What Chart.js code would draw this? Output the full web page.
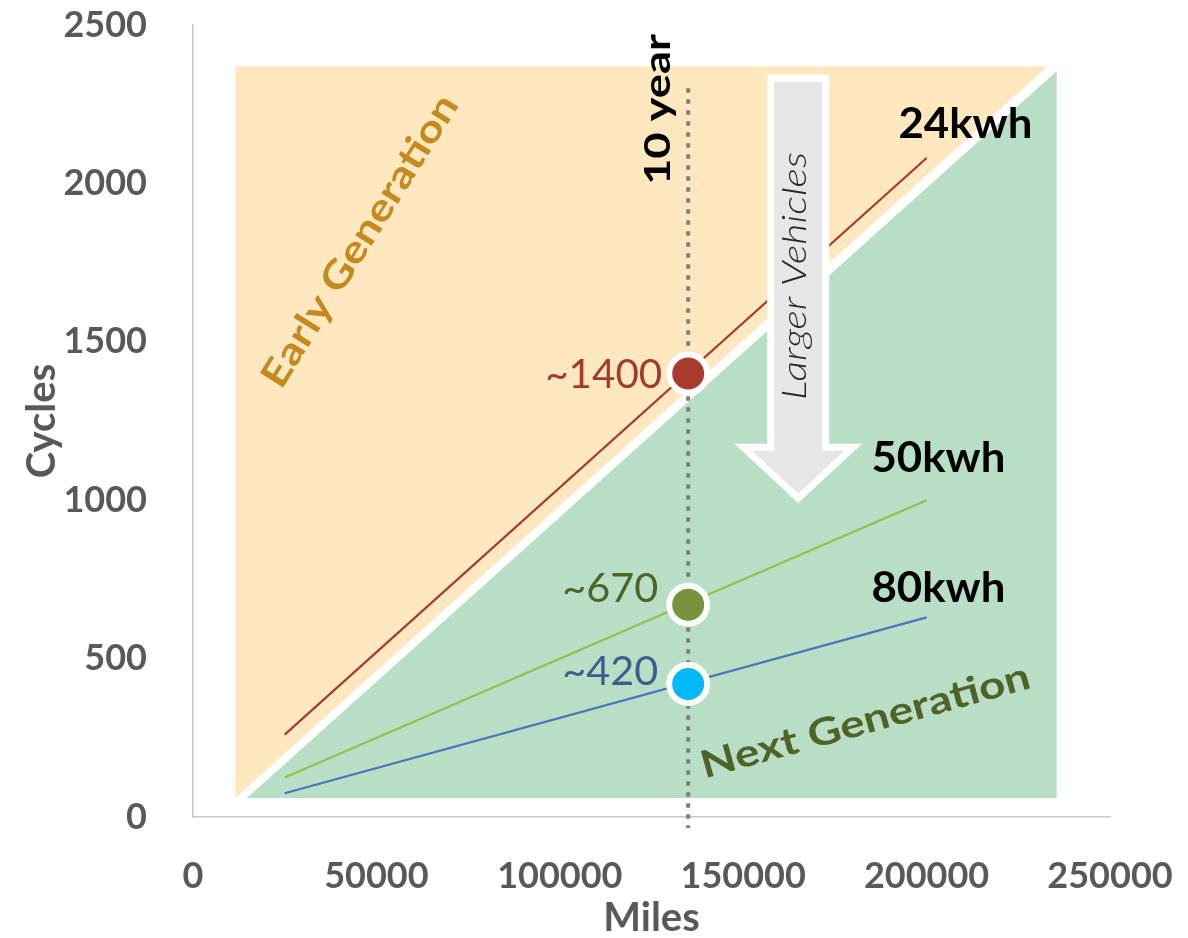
<!DOCTYPE html>
<html>
<head>
<meta charset="utf-8">
<script src="https://cdn.jsdelivr.net/npm/chart.js@4.4.1/dist/chart.umd.min.js"></script>
<style>
  html, body { margin: 0; padding: 0; background: #ffffff; }
  #wrap { width: 1188px; height: 938px; position: relative; }
</style>
</head>
<body>
<div id="wrap"><canvas id="chart"></canvas></div>
<script>
// ---- values ----
const xTickValues = [0, 50000, 100000, 150000, 200000, 250000];
const yTickValues = [0, 500, 1000, 1500, 2000, 2500];

const lineMiles   = [25000, 200000];
const cycles24kwh = [260, 2080];
const cycles50kwh = [125, 1000];
const cycles80kwh = [75, 630];
const packNames   = ['24kwh', '50kwh', '80kwh'];

const tenYearMiles  = 135000;
const tenYearCycles = [1400, 670, 420];
const tenYearLabels = ['~1400', '~670', '~420'];
const tenYearSpan   = [2300, -35];

const earlyZoneMiles  = [11500, 233000];
const earlyZoneCycles = [60, 2370];
const nextZoneMiles   = [14700, 235500];
const nextZoneCycles  = [60, 2355];

// ---- styles ----
const packLineColors  = ['#A33B2D', '#92C04C', '#4A73B9'];
const markerColors    = ['#A83B2C', '#77933C', '#00B9F6'];
const valueTextColors = ['#A33B2D', '#4F6228', '#3B5E8C'];
const axisGray = '#595959';

const pts = (xs, ys) => xs.map((x, i) => ({ x, y: ys[i] }));

// annotation layout (data coordinates)
const packLabelPos = [
  { x: 210590, y: 2186 },
  { x: 203220, y: 1132 },
  { x: 203220, y: 723 }
];
const valueLabelShift = [ { dx: -26, dy: 2 }, { dx: -30, dy: -16 }, { dx: -30, dy: -12 } ];
const notes = [
  { text: '10 year', x: 126840, y: 2233, angle: -90, font: 'bold 36px Lato', color: '#000000', width: 151 },
  { text: 'Larger Vehicles', x: 164210, y: 1708, angle: -90, font: 'italic 300 33px Lato', color: '#262626', width: 248 },
  { text: 'Early Generation', x: 45550, y: 1818, angle: -58, font: 'bold 38px Lato', color: '#C48A1E', width: 337 },
  { text: 'Next Generation', x: 183310, y: 302, angle: -15.5, font: 'bold 38px Lato', color: '#4F6228', width: 340 }
];
const arrow = { x: 165000, top: 2332, neck: 1167, tip: 1006, shaft: 27.5, head: 55, edge: 7, fill: '#E6E6E6' };

function drawText(ctx, text, px, py, opt) {
  ctx.save();
  ctx.translate(px, py);
  ctx.rotate((opt.angle || 0) * Math.PI / 180);
  ctx.font = opt.font;
  ctx.fillStyle = opt.color;
  ctx.textAlign = opt.align || 'center';
  ctx.textBaseline = 'middle';
  if (opt.width) {
    const w = ctx.measureText(text).width;
    ctx.scale(opt.width / w, 1);
  }
  ctx.fillText(text, 0, 0);
  ctx.restore();
}

const annotations = {
  id: 'annotations',
  afterDatasetsDraw(chart) {
    const { ctx, scales: { x, y } } = chart;
    // downward arrow
    const cx = x.getPixelForValue(arrow.x);
    const top = y.getPixelForValue(arrow.top);
    const neck = y.getPixelForValue(arrow.neck);
    const tip = y.getPixelForValue(arrow.tip);
    ctx.save();
    ctx.beginPath();
    ctx.moveTo(cx - arrow.shaft, top);
    ctx.lineTo(cx + arrow.shaft, top);
    ctx.lineTo(cx + arrow.shaft, neck);
    ctx.lineTo(cx + arrow.head, neck);
    ctx.lineTo(cx, tip);
    ctx.lineTo(cx - arrow.head, neck);
    ctx.lineTo(cx - arrow.shaft, neck);
    ctx.closePath();
    ctx.fillStyle = arrow.fill;
    ctx.fill();
    ctx.lineWidth = arrow.edge;
    ctx.lineJoin = 'miter';
    ctx.miterLimit = 10;
    ctx.strokeStyle = '#ffffff';
    ctx.stroke();
    ctx.restore();

    notes.forEach(n => drawText(ctx, n.text, x.getPixelForValue(n.x), y.getPixelForValue(n.y), n));

    packNames.forEach((name, i) => {
      drawText(ctx, name, x.getPixelForValue(packLabelPos[i].x), y.getPixelForValue(packLabelPos[i].y),
        { font: 'bold 42px Lato', color: '#000000', width: 134 });
    });

    const valueWidths = [117, 96, 96];
    tenYearLabels.forEach((label, i) => {
      const px = x.getPixelForValue(tenYearMiles) + valueLabelShift[i].dx;
      const py = y.getPixelForValue(tenYearCycles[i]) + valueLabelShift[i].dy;
      drawText(ctx, label, px, py, { font: '400 40px Lato', color: valueTextColors[i], align: 'right', width: valueWidths[i] });
    });
  }
};

const packSeries = [cycles24kwh, cycles50kwh, cycles80kwh];
const invisible = 'rgba(0,0,0,0)';

const datasets = [
  {
    label: '10-year points',
    data: tenYearCycles.map(c => ({ x: tenYearMiles, y: c })),
    showLine: false,
    pointRadius: 19,
    pointBorderWidth: 6,
    pointBackgroundColor: markerColors,
    pointBorderColor: '#ffffff',
    order: 1
  },
  {
    label: '10 year',
    data: tenYearSpan.map(c => ({ x: tenYearMiles, y: c })),
    borderColor: '#7F7F7F',
    borderWidth: 4,
    borderDash: [4.5, 6.5],
    borderCapStyle: 'butt',
    pointRadius: 0,
    clip: false,
    order: 2
  },
  ...packSeries.map((s, i) => ({
    label: packNames[i],
    data: pts(lineMiles, s),
    borderColor: packLineColors[i],
    borderWidth: 2.2,
    pointRadius: 0,
    order: 3
  })),
  {
    label: 'Early Generation',
    data: pts(earlyZoneMiles, [earlyZoneCycles[1], earlyZoneCycles[1]]),
    borderColor: invisible,
    borderWidth: 0,
    pointRadius: 0,
    backgroundColor: '#FFE8C0',
    fill: '+1',
    order: 9
  },
  {
    label: 'Early Generation edge',
    data: pts(earlyZoneMiles, earlyZoneCycles),
    borderColor: invisible,
    borderWidth: 0,
    pointRadius: 0,
    fill: false,
    order: 9
  },
  {
    label: 'Next Generation',
    data: pts(nextZoneMiles, nextZoneCycles),
    borderColor: invisible,
    borderWidth: 0,
    pointRadius: 0,
    backgroundColor: '#B8DEC6',
    fill: '+1',
    order: 8
  },
  {
    label: 'Next Generation base',
    data: pts(nextZoneMiles, [nextZoneCycles[0], nextZoneCycles[0]]),
    borderColor: invisible,
    borderWidth: 0,
    pointRadius: 0,
    fill: false,
    order: 8
  }
];

// keep the plot frame fixed: labels may overhang into the outer margins
function clearOverhang(s) {
  s.paddingTop = 0; s.paddingBottom = 0; s.paddingLeft = 0; s.paddingRight = 0;
}

new Chart(document.getElementById('chart'), {
  type: 'line',
  data: { datasets },
  options: {
    responsive: true,
    maintainAspectRatio: false,
    animation: false,
    events: [],
    layout: { padding: { left: 0, top: 22, right: 78, bottom: 0 } },
    plugins: { legend: { display: false }, tooltip: { enabled: false } },
    scales: {
      x: {
        type: 'linear',
        min: xTickValues[0],
        max: xTickValues[xTickValues.length - 1],
        afterBuildTicks: s => { s.ticks = xTickValues.map(v => ({ value: v })); },
        afterFit: s => { s.height = 121; clearOverhang(s); },
        grid: { display: false },
        border: { display: true, color: '#C8C8C8', width: 1.5 },
        ticks: {
          color: axisGray,
          padding: 33,
          autoSkip: false,
          maxRotation: 0,
          font: { family: 'Lato', weight: 'bold', size: 36, lineHeight: 1 },
          callback: v => String(v)
        },
        title: {
          display: true,
          text: 'Miles',
          color: axisGray,
          font: { family: 'Lato', weight: 'bold', size: 40, lineHeight: 1 },
          padding: { top: 0, bottom: 0 }
        }
      },
      y: {
        type: 'linear',
        min: yTickValues[0],
        max: yTickValues[yTickValues.length - 1],
        afterBuildTicks: s => { s.ticks = yTickValues.map(v => ({ value: v })); },
        afterFit: s => { s.width = 193; clearOverhang(s); },
        grid: { display: false },
        border: { display: true, color: '#C8C8C8', width: 1.5 },
        ticks: {
          color: axisGray,
          padding: 38,
          font: { family: 'Lato', weight: 'bold', size: 36, lineHeight: 1 },
          callback: v => String(v)
        },
        title: {
          display: true,
          text: 'Cycles',
          color: axisGray,
          font: { family: 'Lato', weight: 'bold', size: 40, lineHeight: 1 },
          padding: { top: 22, bottom: 0 }
        }
      }
    }
  },
  plugins: [annotations]
});
</script>
</body>
</html>
